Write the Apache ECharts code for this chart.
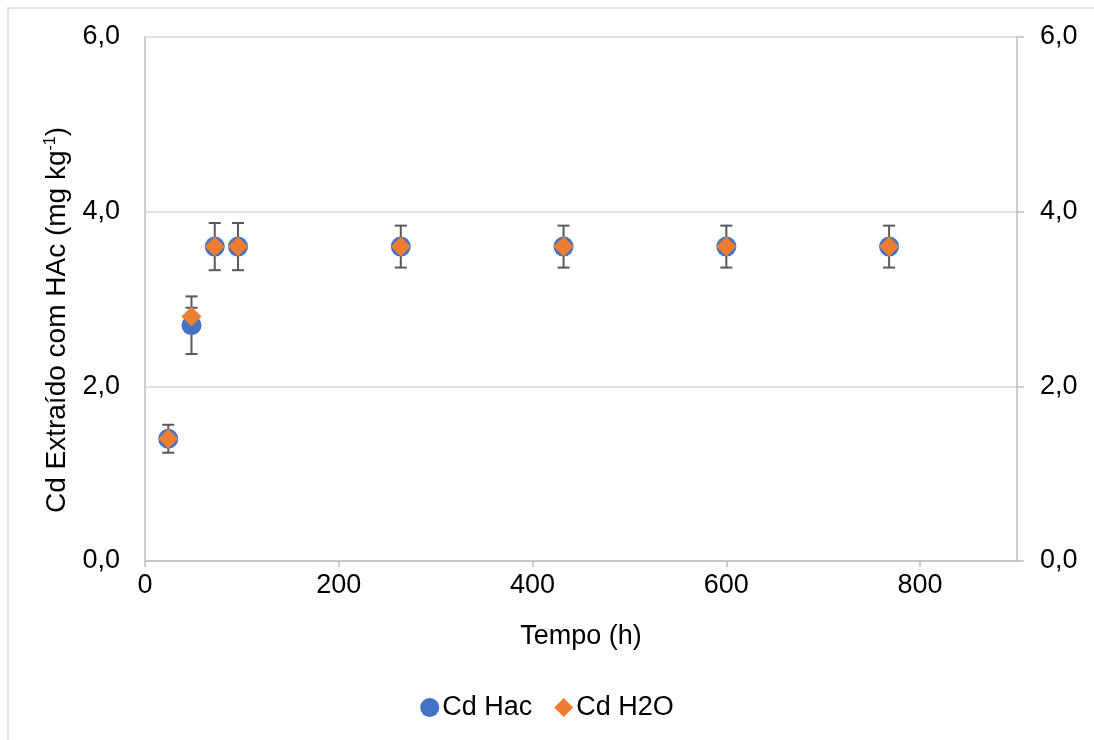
<!DOCTYPE html>
<html>
<head>
<meta charset="utf-8">
<script src="https://cdn.jsdelivr.net/npm/echarts@6/dist/echarts.min.js"></script>
<style>
html, body { margin: 0; padding: 0; background: #fff; }
#chart { width: 1094px; height: 740px; }
</style>
</head>
<body>
<div id="chart"></div>
<script>
// tempo (h) and Cd extracted values
var hours = [24, 48, 72, 96, 264, 432, 600, 768]
var cdHac = [1.4, 2.7, 3.6, 3.6, 3.6, 3.6, 3.6, 3.6]
var cdH2o = [1.4, 2.8, 3.6, 3.6, 3.6, 3.6, 3.6, 3.6]
var errHac = [0.16, 0.33, 0.27, 0.27, 0.24, 0.24, 0.24, 0.24]
var errH2o = [0, 0.1, 0, 0, 0, 0, 0, 0]

var font = 'Liberation Sans, Arial, sans-serif'
var fs = 27
var fmt = function (v) { return v.toFixed(1).replace('.', ',') }

function errData(vals, errs) {
  var out = []
  for (var i = 0; i < hours.length; i++) {
    if (errs[i] > 0) out.push([hours[i], vals[i] - errs[i], vals[i] + errs[i]])
  }
  return out
}

function renderErr(params, api) {
  var lo = api.coord([api.value(0), api.value(1)])
  var hi = api.coord([api.value(0), api.value(2)])
  var w = 6
  var st = { stroke: '#595959', lineWidth: 2 }
  return {
    type: 'group',
    children: [
      { type: 'line', shape: { x1: lo[0], y1: lo[1], x2: hi[0], y2: hi[1] }, style: st },
      { type: 'line', shape: { x1: lo[0] - w, y1: lo[1], x2: lo[0] + w, y2: lo[1] }, style: st },
      { type: 'line', shape: { x1: hi[0] - w, y1: hi[1], x2: hi[0] + w, y2: hi[1] }, style: st }
    ]
  }
}

var chart = echarts.init(document.getElementById('chart'))
var option = {
  backgroundColor: '#fff',
  textStyle: { fontFamily: font },
  graphic: [{
    type: 'rect',
    shape: { x: 8, y: 8, width: 1200, height: 900 },
    style: { fill: 'none', stroke: '#d9d9d9', lineWidth: 1.5 },
    silent: true
  }],
  grid: { left: 145, right: 77, top: 37, bottom: 179 },
  legend: {
    bottom: 14,
    left: 'center',
    itemWidth: 19,
    itemHeight: 19,
    itemGap: 22,
    textStyle: { fontSize: fs, color: '#000', fontFamily: font, padding: [0, 0, 0, -2] },
    data: [
      { name: 'Cd Hac', icon: 'circle' },
      { name: 'Cd H2O', icon: 'diamond' }
    ]
  },
  xAxis: {
    type: 'value',
    min: 0,
    max: 900,
    interval: 200,
    name: 'Tempo (h)',
    nameLocation: 'middle',
    nameGap: 62,
    nameTextStyle: { fontSize: fs, color: '#000', fontFamily: font },
    axisLine: { show: true, lineStyle: { color: '#bfbfbf', width: 1.5 } },
    axisTick: { show: true, length: 6, lineStyle: { color: '#bfbfbf', width: 1.5 } },
    axisLabel: { fontSize: fs, color: '#000', margin: 11, showMaxLabel: false,
      formatter: function (v) { return v > 800 ? '' : String(v) } },
    splitLine: { show: false }
  },
  yAxis: [{
    type: 'value',
    min: 0,
    max: 6,
    interval: 2,
    name: '{a|Cd Extraído com HAc (mg kg}{b|-1}{a|)}',
    nameLocation: 'middle',
    nameGap: 69,
    nameTextStyle: {
      padding: [0, 42, 0, 0],
      rich: {
        a: { fontSize: 28, color: '#000', fontFamily: font },
        b: { fontSize: 16, color: '#000', fontFamily: font, padding: [0, 0, 14, 0] }
      }
    },
    axisLine: { show: true, lineStyle: { color: '#bfbfbf', width: 1.5 } },
    axisTick: { show: false },
    axisLabel: { fontSize: fs, color: '#000', margin: 25, formatter: fmt },
    splitLine: { show: true, lineStyle: { color: '#d9d9d9', width: 1.5 } }
  }, {
    type: 'value',
    position: 'right',
    min: 0,
    max: 6,
    interval: 2,
    axisLine: { show: true, lineStyle: { color: '#bfbfbf', width: 1.5 } },
    axisTick: { show: true, length: 7, lineStyle: { color: '#bfbfbf', width: 1.5 } },
    axisLabel: { fontSize: fs, color: '#000', margin: 23, formatter: fmt },
    splitLine: { show: false }
  }],
  series: [
    {
      type: 'custom',
      name: 'errHac',
      renderItem: renderErr,
      data: errData(cdHac, errHac),
      z: 1,
      silent: true
    },
    {
      type: 'custom',
      name: 'errH2o',
      renderItem: renderErr,
      data: errData(cdH2o, errH2o),
      z: 1,
      silent: true
    },
    {
      name: 'Cd Hac',
      type: 'scatter',
      symbol: 'circle',
      symbolSize: 20,
      itemStyle: { color: '#4472C4', opacity: 1 },
      data: hours.map(function (h, i) { return [h, cdHac[i]] }),
      z: 3
    },
    {
      name: 'Cd H2O',
      type: 'scatter',
      symbol: 'diamond',
      symbolSize: 20,
      itemStyle: { color: '#ED7D31', opacity: 1 },
      data: hours.map(function (h, i) { return [h, cdH2o[i]] }),
      z: 4
    }
  ]
}
chart.setOption(option)
</script>
</body>
</html>
